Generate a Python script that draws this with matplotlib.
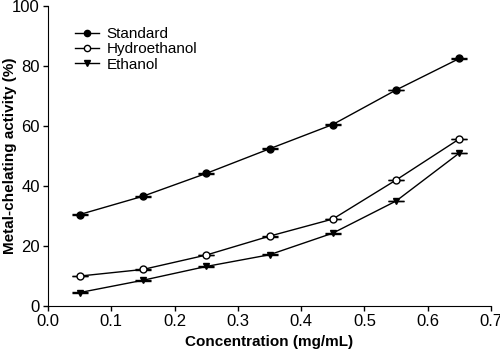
import matplotlib
matplotlib.use("Agg")
import matplotlib.pyplot as plt
from matplotlib.lines import Line2D

plt.rcParams['font.family'] = ['Liberation Sans', 'DejaVu Sans']

conc = [0.05, 0.15, 0.25, 0.35, 0.45, 0.55, 0.65]
standard = [30.5, 36.6, 44.2, 52.4, 60.5, 72.0, 82.5]
hydroethanol = [10.0, 12.2, 17.0, 23.3, 29.0, 42.0, 55.7]
ethanol = [4.5, 8.6, 13.2, 17.1, 24.3, 35.0, 51.0]
err = 0.12

fig = plt.figure(figsize=(5.0, 3.51), dpi=100)
ax = fig.add_axes([0.096, 0.128, 0.886, 0.855])

kw = dict(color='black', lw=1.0, capsize=6, elinewidth=1.0, capthick=1.0, markersize=5)
ax.errorbar(conc, standard, yerr=err, fmt='-o', mfc='black', mec='black', label='Standard', **kw)
ax.errorbar(conc, hydroethanol, yerr=err, fmt='-o', mfc='white', mec='black', label='Hydroethanol', **kw)
ax.errorbar(conc, ethanol, yerr=err, fmt='-v', mfc='black', mec='black', label='Ethanol', **kw)

ax.set_xlim(0, 0.7)
ax.set_ylim(0, 100)
ax.set_xticks([0.0, 0.1, 0.2, 0.3, 0.4, 0.5, 0.6, 0.7])
ax.set_xticklabels(['0.0', '0.1', '0.2', '0.3', '0.4', '0.5', '0.6', '0.7'])
ax.set_yticks([0, 20, 40, 60, 80, 100])
ax.spines['top'].set_visible(False)
ax.spines['right'].set_visible(False)
ax.tick_params(direction='out', length=3.5, width=1, labelsize=12, pad=2.5)
ax.set_xlabel('Concentration (mg/mL)', fontsize=11, fontweight='bold', labelpad=4)
ax.set_ylabel('Metal-chelating activity (%)', fontsize=11, fontweight='bold')
ax.yaxis.set_label_coords(-0.07, 0.5)

handles = [Line2D([], [], color='black', marker='o', mfc='black', lw=1.0, markersize=4.5),
           Line2D([], [], color='black', marker='o', mfc='white', lw=1.0, markersize=4.5),
           Line2D([], [], color='black', marker='v', mfc='black', lw=1.0, markersize=4.5)]
ax.legend(handles, ['Standard', 'Hydroethanol', 'Ethanol'], loc='upper left',
          bbox_to_anchor=(0.047, 0.95), frameon=False, fontsize=11, handlelength=1.6,
          handletextpad=0.45, labelspacing=0.08, borderaxespad=0)

fig.savefig('out.png', dpi=100)
